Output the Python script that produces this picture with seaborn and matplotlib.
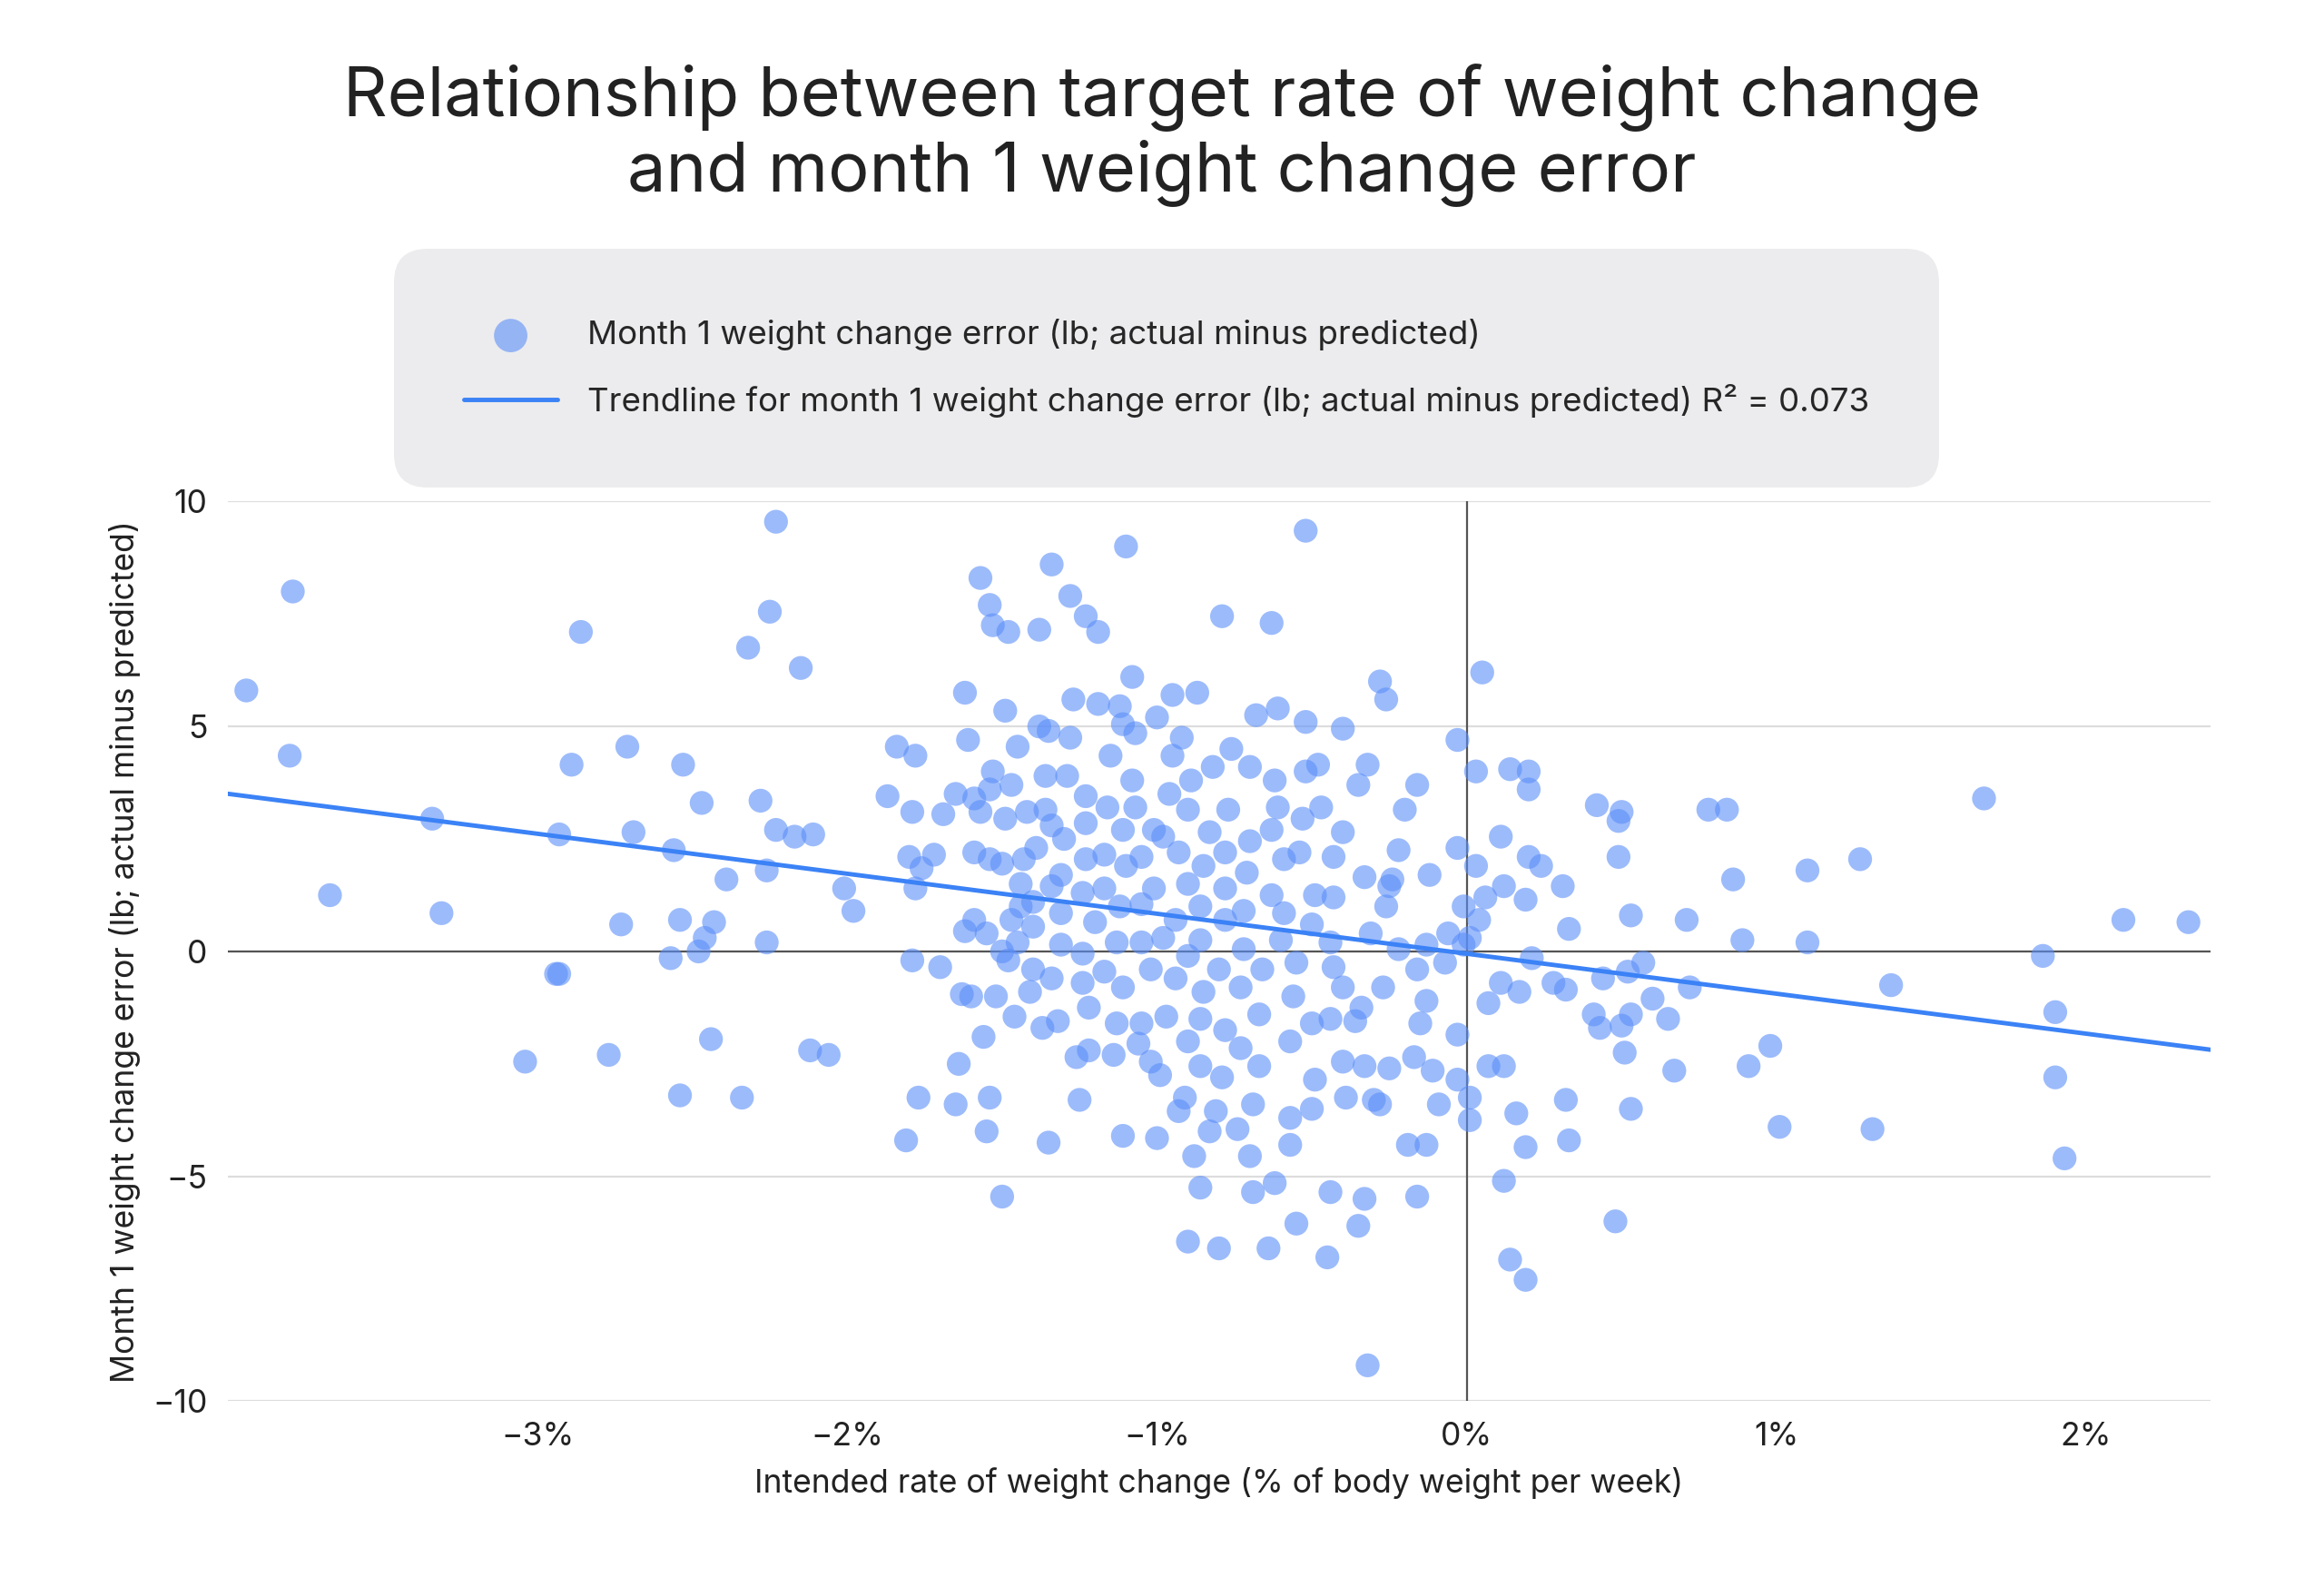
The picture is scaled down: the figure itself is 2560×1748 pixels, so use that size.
import matplotlib
matplotlib.use("Agg")
import pandas as pd
import matplotlib.pyplot as plt
import seaborn as sns

# Intended rate (% body weight / week) and month 1 error (lb)
rate = [
    -3.94, -3.79, -3.80, -3.67, -3.34, -3.31, -3.04, -2.94, -2.93, -2.93, -2.89, -2.86, -2.77, -2.73,
    -2.71, -2.69, -2.57, -2.56, -2.54, -2.53, -2.54, -2.48, -2.47, -2.46, -2.44, -2.43, -2.39, -2.34,
    -2.32, -2.28, -2.26, -2.26, -2.25, -2.23, -2.23, -2.17, -2.15, -2.11, -2.12, -2.06, -2.01, -1.98,
    -1.87, -1.84, -1.81, -1.80, -1.79, -1.79, -1.78, -1.78, -1.77, -1.76, -1.72, -1.70, -1.69, -1.65,
    -1.65, -1.64, -1.62, -1.61, -1.59, -1.57, -1.55, -1.54, -1.53, -1.54, -1.50, -1.48, -1.38, -1.34,
    -1.35, -1.28, -1.25, -1.23, -1.19, -1.10, -1.11, -1.08, -0.79, -0.90, -0.86, -0.80, -0.63, -0.64,
    -0.62, -0.52, -0.55, -0.45, -0.44, -0.35, -0.32, -0.33, -0.28, -0.26, -0.16, 0.05, 0.12, 0.14,
    0.19, 0.19, 0.48, 1.67, 2.12, 2.33, 1.86, 1.90, 1.90, 1.93, 1.27, 1.37, 1.31, 1.10, 1.10, 1.01,
    0.98, 0.91, 0.89, 0.86, 0.78, 0.84, 0.72, 0.71, 0.67, 0.65, 0.60, 0.57, 0.53, 0.53, 0.53, 0.51,
    0.50, 0.52, 0.49, 0.50, 0.49, 0.42, 0.44, 0.43, 0.41, 0.33, 0.33, 0.32, 0.31, 0.32, 0.28, 0.24,
    0.20, 0.14, 0.20, 0.19, 0.20, 0.21, 0.17, 0.16, 0.12, 0.11, 0.12, 0.11, 0.07, 0.07, 0.03, 0.03,
    0.06, 0.04, 0.01, 0.01, -0.03, -0.03, -0.01, -0.01, 0.01, -0.03, -0.03, -0.06, -0.07, -0.09, -0.11,
    -0.12, -0.13, -0.16, -0.13, -0.13, -0.19, -0.17, -0.15, -0.16, -0.20, -0.22, -0.22, -0.26, -0.24,
    -0.25, -0.27, -0.25, -0.28, -0.30, -0.33, -0.34, -0.32, -0.35, -0.33, -0.31, -0.36, -0.40, -0.40,
    -0.43, -0.43, -0.44, -0.43, -0.40, -0.44, -0.40, -0.39, -0.48, -0.47, -0.49, -0.50, -0.50, -0.49,
    -0.50, -0.52, -0.52, -0.53, -0.54, -0.55, -0.56, -0.57, -0.57, -0.59, -0.59, -0.60, -0.57, -0.61,
    -0.62, -0.61, -0.63, -0.63, -0.66, -0.67, -0.67, -0.69, -0.70, -0.69, -0.68, -0.70, -0.70, -0.71,
    -0.72, -0.72, -0.73, -0.73, -0.74, -0.76, -0.77, -0.78, -0.78, -0.78, -0.80, -0.78, -0.79, -0.81,
    -0.83, -0.82, -0.83, -0.85, -0.86, -0.86, -0.85, -0.86, -0.86, -0.87, -0.88, -0.89, -0.90, -0.90,
    -0.90, -0.90, -0.91, -0.92, -0.93, -0.94, -0.94, -0.93, -0.95, -0.95, -0.96, -0.98, -0.98, -0.97,
    -0.99, -1.00, -1.00, -1.01, -1.01, -1.02, -1.02, -1.05, -1.05, -1.05, -1.05, -1.06, -1.07, -1.07,
    -1.08, -1.10, -1.11, -1.11, -1.12, -1.11, -1.12, -1.13, -1.13, -1.14, -1.15, -1.16, -1.17, -1.17,
    -1.17, -1.19, -1.20, -1.22, -1.22, -1.23, -1.23, -1.23, -1.24, -1.24, -1.24, -1.26, -1.27, -1.28,
    -1.29, -1.30, -1.31, -1.31, -1.31, -1.32, -1.34, -1.34, -1.34, -1.35, -1.36, -1.36, -1.37, -1.38,
    -1.39, -1.40, -1.40, -1.40, -1.41, -1.42, -1.43, -1.44, -1.44, -1.45, -1.45, -1.46, -1.47, -1.47,
    -1.48, -1.49, -1.49, -1.50, -1.50, -1.52, -1.53, -1.54, -1.54, -1.55, -1.56, -1.57, -1.59, -1.59,
    -1.60, -1.62, -1.63,
]
error = [
    5.8, 8.0, 4.35, 1.25, 2.95, 0.85, -2.45, -0.5, -0.5, 2.6, 4.15, 7.1, -2.3, 0.6,
    4.55, 2.65, -0.15, 2.25, -3.2, 4.15, 0.7, 0.0, 3.3, 0.3, -1.95, 0.65, 1.6, -3.25,
    6.75, 3.35, 0.2, 1.8, 7.55, 9.55, 2.7, 2.55, 6.3, 2.6, -2.2, -2.3, 1.4, 0.9,
    3.45, 4.55, -4.2, 2.1, 3.1, -0.2, 1.4, 4.35, -3.25, 1.85, 2.15, -0.35, 3.05, 3.5,
    -3.4, -2.5, 5.75, 4.7, 3.4, 8.3, -4.0, 7.7, 7.25, -3.25, -5.45, 7.1, 7.15, 8.6,
    -4.25, 7.9, -3.3, 7.45, 7.1, 9.0, -4.1, 6.1, 7.45, -6.45, -5.25, -6.6, 7.3, -6.6,
    -5.15, 9.35, -6.05, -6.8, -5.35, -6.1, -9.2, -5.5, 6.0, 5.6, -5.45, 6.2, -5.1, -6.85,
    -7.3, -4.35, -6.0, 3.4, 0.7, 0.65, -0.1, -1.35, -2.8, -4.6, 2.05, -0.75, -3.95, 1.8, 0.2, -3.9,
    -2.1, -2.55, 0.25, 1.6, 3.15, 3.15, -0.8, 0.7, -2.65, -1.5, -1.05, -0.25, -3.5, 0.8, -1.4, -2.25,
    -1.65, -0.45, 2.1, 3.1, 2.9, 3.25, -0.6, -1.7, -1.4, -4.2, 0.5, -3.3, 1.45, -0.85, -0.7, 1.9,
    4.0, 4.05, 2.1, 1.15, 3.6, -0.15, -0.9, -3.6, -2.55, 2.55, 1.45, -0.7, -1.15, -2.55, 4.0, 1.9,
    1.2, 0.7, -3.25, -3.75, 4.7, 2.3, 1.0, 0.15, 0.3, -1.85, -2.85, 0.4, -0.25, -3.4, -2.65,
    1.7, 0.15, -0.4, -1.1, -4.3, -4.3, -2.35, -1.6, 3.7, 3.15, 2.25, 0.05, 1.0, 1.6,
    1.45, -0.8, -2.6, -3.4, -3.3, -2.55, -1.25, 4.15, 3.7, 1.65, 0.4, -1.55, 4.95, 2.65,
    2.1, 1.2, 0.2, -0.35, -0.8, -1.5, -2.45, -3.25, 4.15, 3.2, 1.25, 0.6, -1.6, -2.85,
    -3.5, 5.1, 4.0, 2.95, 2.2, -0.25, -1.0, -2.0, -3.7, 2.05, 0.85, 0.25, -4.3, 5.4,
    3.8, 3.2, 2.7, 1.25, -0.4, -1.4, -2.55, -3.4, -4.55, -5.35, 5.25, 4.1, 2.45, 1.75,
    0.9, 0.05, -0.8, -2.15, -3.95, 4.5, 3.15, 2.2, 1.4, 0.7, -0.4, -1.75, -2.8, -3.55,
    -4.0, 4.1, 2.65, 1.9, 1.0, 0.25, -0.9, -1.5, -2.55, 5.75, -4.55, 3.8, 3.15, 1.5,
    -0.1, -2.0, -3.25, 4.75, 2.2, 0.7, -0.6, -3.55, 5.7, 4.35, 3.5, 2.55, 0.3, -1.45,
    -2.75, -4.15, 5.2, 2.7, 1.4, -0.4, -2.45, 2.1, 1.05, 0.2, -1.6, -2.05, 4.85, 3.2,
    3.8, 1.9, 2.7, -0.8, 5.45, 5.05, 1.0, 0.2, -1.6, -2.3, 4.35, 3.2, 2.15, 1.4,
    -0.45, 5.5, 0.65, -1.25, -2.2, 3.45, 2.85, 2.05, 1.3, -0.05, -0.7, -2.35, 5.6, 4.75,
    3.9, 2.5, 1.7, 0.85, 0.15, -1.55, 2.8, 1.45, -0.6, 4.9, 3.9, 3.15, -1.7, 5.0,
    2.3, 1.1, 0.55, -0.4, -0.9, 3.1, 2.05, 1.5, 1.0, 0.2, 4.55, -1.45, 3.7, 0.7,
    -0.2, 5.35, 2.95, 1.95, 0.0, -1.0, 4.0, 3.6, 2.05, 0.4, -1.9, 3.1, 2.2, 0.7,
    -1.0, 0.45, -0.95,
]
x_ticks = [-3, -2, -1, 0, 1, 2]
y_ticks = [-10, -5, 0, 5, 10]
r2_text = "R² = 0.073"

df = pd.DataFrame({"rate": rate, "error": error})

sns.set_theme(style="white")
plt.rcParams["font.family"] = ["Inter", "DejaVu Sans"]

fig = plt.figure(figsize=(16, 10.925), dpi=160)
ax = fig.add_axes([0.098, 0.117, 0.853, 0.567])
ax.set_xlim(-4.0, 2.4)
ax.set_ylim(-10, 10)

# gridlines and zero lines
for yv in y_ticks:
    ax.axhline(yv, color="#dddddd", lw=1, zorder=0)
ax.axhline(0, color="#555555", lw=1, zorder=1)
ax.axvline(0, color="#555555", lw=1, zorder=1)

sns.scatterplot(data=df, x="rate", y="error", ax=ax, s=140, color="#5b8ff9",
                alpha=0.6, edgecolor="none", zorder=2,
                label="Month 1 weight change error (lb; actual minus predicted)")
sns.regplot(data=df, x="rate", y="error", ax=ax, scatter=False, ci=None,
            truncate=False, color="#3b82f6", line_kws={"lw": 2.2, "zorder": 3},
            label=f"Trendline for month 1 weight change error (lb; actual minus predicted) {r2_text}")
ax.set_xlim(-4.0, 2.4)

for s in ax.spines.values():
    s.set_visible(False)
ax.set_xticks(x_ticks)
ax.set_xticklabels([f"{t}%".replace("-", "\u2212") for t in x_ticks])
ax.set_yticks(y_ticks)
ax.set_yticklabels([str(t).replace("-", "\u2212") for t in y_ticks])
ax.tick_params(labelsize=16, colors="#222222", length=0, pad=10)
ax.set_xlabel("Intended rate of weight change (% of body weight per week)", fontsize=16, color="#222222", labelpad=8)
ax.set_ylabel("Month 1 weight change error (lb; actual minus predicted)", fontsize=16, color="#222222", labelpad=6)

handles, labels = ax.get_legend_handles_labels()
if ax.legend_:
    ax.legend_.remove()
leg = fig.legend(handles, labels, loc="center", bbox_to_anchor=(0.502, 0.768),
                 frameon=True, fancybox=True, facecolor="#ececee", edgecolor="none",
                 fontsize=16.5, borderpad=1.5, labelspacing=1.0, handlelength=2.8,
                 handletextpad=0.9, markerscale=1.4, framealpha=1)
leg.get_frame().set_boxstyle("round", pad=0.6, rounding_size=1.0)

fig.suptitle("Relationship between target rate of weight change\nand month 1 weight change error",
             fontsize=34, color="#222222", y=0.96, linespacing=1.15)

fig.savefig("out.png", dpi=160)
